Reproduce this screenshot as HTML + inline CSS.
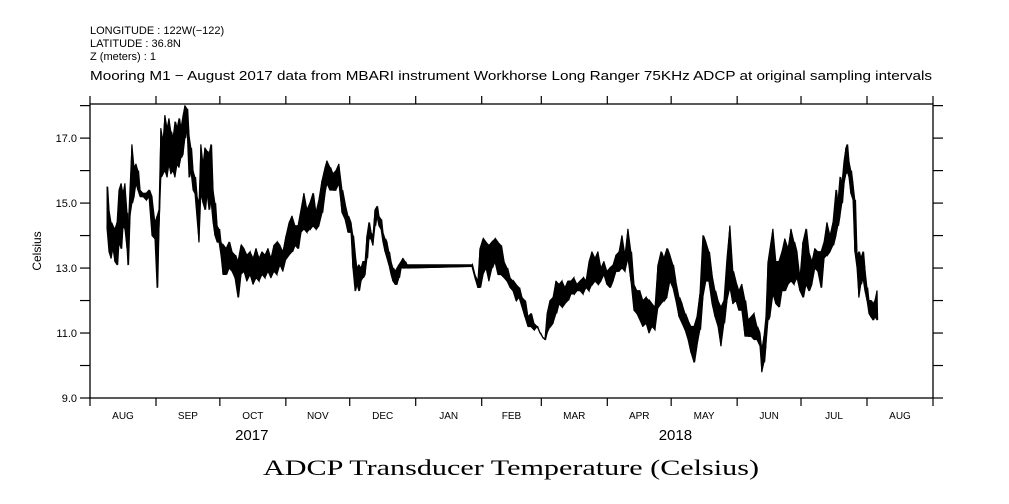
<!DOCTYPE html>
<html>
<head>
<meta charset="utf-8">
<style>
html,body{margin:0;padding:0;background:#fff;}
svg{display:block;}
text{font-family:"Liberation Sans",sans-serif;fill:#000;}
</style>
</head>
<body>
<svg id="chart" width="1009" height="504" viewBox="0 0 1009 504" xmlns="http://www.w3.org/2000/svg">
  <g>
    <text x="90" y="34" font-size="11">LONGITUDE : 122W(−122)</text>
    <text x="90" y="47" font-size="11">LATITUDE : 36.8N</text>
    <text x="90" y="60" font-size="11">Z (meters) : 1</text>
    <text x="90" y="80" font-size="13" textLength="842" lengthAdjust="spacingAndGlyphs">Mooring M1 − August 2017 data from MBARI instrument Workhorse Long Ranger 75KHz ADCP at original sampling intervals</text>
  </g>
  <g id="axes"></g>
  <g id="series"></g>
  <text transform="translate(41,251) rotate(-90)" text-anchor="middle" font-size="12">Celsius</text>
  <text x="511" y="475" text-anchor="middle" font-size="22" textLength="496" lengthAdjust="spacingAndGlyphs" style="font-family:'Liberation Serif',serif">ADCP Transducer Temperature (Celsius)</text>
</svg>
<script>
// Days since 2017-08-01
const days = [8.0,8.9,9.9,10.8,11.7,12.7,13.6,14.6,15.5,16.4,17.4,17.8,18.8,19.7,20.7,21.6,22.5,23.5,24.9,26.3,27.7,29.1,30.5,31.5,32.4,33.3,34.3,35.2,36.2,37.1,38.0,39.0,39.9,40.9,41.8,42.7,43.7,44.6,45.6,46.5,47.4,48.4,49.3,50.3,51.2,52.1,53.1,54.0,55.0,55.9,56.8,57.8,58.7,59.7,60.6,61.5,62.5,63.9,65.3,66.7,68.1,69.5,70.9,72.3,73.7,75.2,76.6,78.0,79.4,80.8,82.2,83.6,85.0,86.4,87.8,89.2,90.6,92.1,93.5,94.9,96.3,97.7,99.1,100.5,101.9,103.3,104.7,106.1,107.5,109.0,110.4,111.3,112.7,114.1,115.5,116.9,118.4,119.8,121.2,122.6,123.5,124.5,125.4,126.3,127.3,128.2,129.2,130.1,131.0,132.0,132.9,133.9,134.8,135.7,136.7,137.6,138.6,139.5,140.4,141.4,142.3,143.3,144.2,145.1,146.1,147.0,148.0,148.9,
179.4,180.8,182.2,183.2,184.6,186.0,187.4,188.8,190.2,191.6,193.0,194.5,195.9,197.3,198.7,200.1,201.5,202.9,204.3,205.7,207.1,208.5,210.0,211.4,212.8,213.7,214.7,216.1,217.5,218.9,220.3,221.7,223.1,224.5,225.9,227.3,228.7,230.2,231.6,233.0,234.4,235.8,237.2,238.6,240.0,241.4,242.8,244.2,245.7,247.1,248.5,249.9,251.3,252.7,254.1,255.5,256.9,258.3,259.7,261.2,262.6,264.0,265.4,266.8,268.2,269.6,271.0,272.4,273.8,275.2,276.7,278.1,279.5,280.9,282.3,283.7,285.1,286.5,287.9,289.3,290.7,292.2,293.6,295.0,296.4,297.8,299.2,300.6,302.0,303.4,304.8,306.2,307.7,309.1,310.5,311.9,313.3,314.7,315.6,316.6,317.5,318.5,319.4,320.8,322.2,323.6,325.0,326.4,327.9,329.3,330.7,332.1,333.5,334.9,336.3,337.7,339.1,340.5,341.9,343.4,344.8,346.2,347.6,349.0,350.4,351.3,352.3,353.2,354.2,355.1,355.6,356.5,357.4,358.4,359.3,360.3,361.2,362.1,363.1,364.0,365.0,365.9,366.8,367.8,368.7,369.7];
const tempLo = [14.2,13.5,13.3,13.6,13.2,13.1,13.8,13.6,14.3,14.2,13.6,13.1,14.6,15.0,15.2,15.6,15.4,15.2,15.2,15.1,15.2,14.0,13.9,12.4,14.2,15.8,15.9,16.0,15.8,16.2,15.9,16.0,15.8,16.2,16.1,16.4,16.5,17.0,17.3,15.8,16.0,15.4,15.3,14.5,13.8,15.3,15.0,14.8,15.3,14.8,15.1,14.4,14.0,13.8,13.8,13.4,12.8,12.8,13.0,12.9,12.7,12.1,12.8,12.9,12.6,12.8,12.5,12.7,12.6,12.8,12.7,12.9,12.7,12.9,12.8,13.1,12.9,13.3,13.4,13.5,13.7,13.6,14.1,14.2,14.1,14.2,14.3,14.2,14.3,14.7,15.3,15.6,15.4,15.4,15.4,15.6,14.7,14.5,14.1,14.1,13.0,12.3,12.5,12.3,12.6,12.7,12.8,13.3,13.9,13.9,13.7,14.3,14.6,14.3,14.2,13.8,13.5,13.3,13.1,12.8,12.6,12.5,12.5,12.7,13.0,13.0,13.0,13.0,
13.05,12.7,12.4,12.4,12.8,13.0,12.6,13.0,13.2,12.8,12.8,12.7,12.6,12.4,12.3,12.0,12.1,11.8,11.5,11.2,11.2,11.1,11.2,11.0,10.85,10.8,11.0,11.2,11.3,11.6,11.9,11.8,11.9,12.0,12.2,12.2,12.3,12.3,12.2,12.4,12.3,12.5,12.6,12.5,12.6,12.8,12.5,12.4,12.6,12.9,12.9,13.0,12.9,13.3,12.6,11.7,11.6,11.4,11.2,11.3,11.0,11.2,11.1,11.8,11.9,12.0,12.1,12.6,12.4,12.0,11.5,11.3,11.1,10.8,10.4,10.1,10.6,11.1,12.1,12.6,12.6,11.9,11.5,11.2,10.6,11.3,12.0,12.4,11.9,12.0,11.7,11.7,10.9,10.9,10.9,10.8,10.8,10.6,9.8,10.1,10.6,11.4,11.5,12.2,11.9,11.8,12.3,12.3,12.5,12.6,12.5,12.7,12.3,12.1,12.5,12.3,12.5,13.0,12.9,12.4,13.3,13.4,13.5,13.7,14.0,14.3,14.6,15.0,15.6,15.9,16.0,15.8,15.3,15.1,13.5,13.0,12.1,12.5,12.7,12.3,12.0,11.6,11.5,11.4,11.5,11.4];
const tempHi = [15.5,14.8,14.4,14.3,14.2,14.4,15.4,15.6,15.3,15.6,14.7,14.0,15.5,16.8,16.1,16.2,16.0,15.4,15.3,15.3,15.4,15.2,14.4,14.6,14.8,17.3,16.9,17.7,17.3,17.6,17.2,17.0,17.5,17.3,17.6,17.3,17.7,18.0,17.9,17.1,16.7,16.0,15.8,15.2,15.0,16.8,16.2,16.7,16.6,16.5,16.8,15.4,15.0,14.3,14.2,13.8,13.7,13.6,13.8,13.5,13.4,13.2,13.7,13.6,13.4,13.5,13.3,13.6,13.3,13.5,13.4,13.6,13.3,13.7,13.8,13.7,13.5,14.0,14.4,14.6,14.3,14.3,14.8,15.3,14.8,15.0,15.3,14.7,15.1,15.7,16.1,16.3,16.1,15.9,16.0,16.2,15.4,15.0,14.6,14.4,14.0,13.5,13.0,13.1,13.0,13.2,13.2,14.0,14.4,14.1,14.0,14.8,14.9,14.6,14.5,14.1,13.9,13.8,13.5,13.2,13.0,12.9,13.0,13.1,13.2,13.3,13.2,13.1,
13.1,12.8,12.6,13.6,13.9,13.8,13.7,13.8,13.9,13.8,13.7,13.2,13.0,12.7,12.6,12.5,12.4,12.1,12.0,11.5,11.6,11.3,11.2,11.0,10.85,10.8,11.6,12.0,12.1,12.6,12.5,12.6,12.4,12.6,12.6,12.7,12.5,12.6,12.7,12.6,13.2,13.5,13.3,13.5,13.0,13.2,12.9,13.0,13.1,13.4,13.5,14.0,13.4,14.2,13.5,12.5,12.3,12.3,12.0,12.1,12.0,11.9,11.8,13.1,13.5,13.3,13.6,13.4,13.1,12.6,12.1,11.9,11.6,11.4,11.2,11.2,11.5,12.2,14.0,13.8,13.5,12.8,12.3,12.0,11.8,12.0,13.3,14.3,12.9,12.6,12.3,12.5,12.0,11.4,11.5,11.6,11.2,11.0,10.5,10.9,11.5,13.2,13.6,14.2,13.2,13.2,13.5,13.9,13.6,14.2,13.8,13.5,12.7,13.8,14.2,13.5,13.2,13.6,13.5,13.5,13.8,14.4,14.0,14.4,15.4,15.0,15.8,15.6,16.3,16.7,16.8,16.3,16.0,15.6,15.1,13.4,13.5,13.3,13.5,13.0,12.4,12.0,12.0,11.9,12.0,12.3];
const monthLabels = ["AUG","SEP","OCT","NOV","DEC","JAN","FEB","MAR","APR","MAY","JUN","JUL","AUG"];
const monthStarts = [0,31,61,92,122,153,184,212,243,273,304,334,365,396];
const yTickLabels = ["9.0","11.0","13.0","15.0","17.0"];
const yTickValues = [9,11,13,15,17];
const yearLabels = ["2017","2018"];
const yearCenters = [76,275];

const NS = "http://www.w3.org/2000/svg";
const L = 90, R = 933, T = 104, B = 398;
const D0 = 0, D1 = 396, Y0 = 9, Y1 = 18.05;
function xs(d){ return L + (d - D0) / (D1 - D0) * (R - L); }
function ys(v){ return B - (v - Y0) / (Y1 - Y0) * (B - T); }
function mk(tag, attrs, parent){
  const e = document.createElementNS(NS, tag);
  for (const k in attrs) e.setAttribute(k, attrs[k]);
  parent.appendChild(e);
  return e;
}
const axes = document.getElementById('axes');
const frame = mk('rect', {x:L, y:T, width:R-L, height:B-T, fill:'none', stroke:'#000', 'stroke-width':1.3}, axes);



monthStarts.forEach(function(d){
  const x = xs(d);
  const tb = mk('line', {x1:x, y1:B, x2:x, y2:B+8, stroke:'#000', 'stroke-width':1.2}, axes);
  
  
  const tt = mk('line', {x1:x, y1:T, x2:x, y2:T-8, stroke:'#000', 'stroke-width':1.2}, axes);
  
  
});
monthLabels.forEach(function(m, i){
  const t = mk('text', {x:xs((monthStarts[i]+monthStarts[i+1])/2), y:419, 'text-anchor':'middle', 'font-size':10}, axes);
  t.textContent = m;
  
  
});
yearLabels.forEach(function(yl, i){
  const t = mk('text', {x:xs(yearCenters[i]), y:440, 'text-anchor':'middle', 'font-size':15}, axes);
  t.textContent = yl;
  
  
});
for (let v = 9; v <= 18; v++){
  const y = ys(v);
  const tl = mk('line', {x1:L-10, y1:y, x2:L, y2:y, stroke:'#000', 'stroke-width':1.2}, axes);
  
  
  const tr = mk('line', {x1:R, y1:y, x2:R+10, y2:y, stroke:'#000', 'stroke-width':1.2}, axes);
  
  
}
yTickValues.forEach(function(v, i){
  const t = mk('text', {x:L-13, y:ys(v)+4, 'text-anchor':'end', 'font-size':11}, axes);
  t.textContent = yTickLabels[i];
  
  
});

const series = document.getElementById('series');
// filled band between daily low and high
let band = '';
for (let i = 0; i < days.length; i++){
  band += (i === 0 ? 'M' : 'L') + xs(days[i]).toFixed(2) + ',' + ys(tempHi[i]).toFixed(2);
}
for (let i = days.length - 1; i >= 0; i--){
  band += 'L' + xs(days[i]).toFixed(2) + ',' + ys(tempLo[i]).toFixed(2);
}
band += 'Z';
const bandPath = mk('path', {d:band, fill:'#000', stroke:'#000', 'stroke-width':1, 'stroke-linejoin':'round'}, series);



let dstr = '';
for (let i = 0; i < days.length; i++){
  const x = xs(days[i]);
  const a = (i % 2 === 0) ? tempLo[i] : tempHi[i];
  const b = (i % 2 === 0) ? tempHi[i] : tempLo[i];
  dstr += (i === 0 ? 'M' : 'L') + x.toFixed(2) + ',' + ys(a).toFixed(2) + 'L' + (x + 0.6).toFixed(2) + ',' + ys(b).toFixed(2);
}
const path = mk('path', {d:dstr, fill:'none', stroke:'#000', 'stroke-width':1.2, 'stroke-linejoin':'miter'}, series);


</script>
</body>
</html>
